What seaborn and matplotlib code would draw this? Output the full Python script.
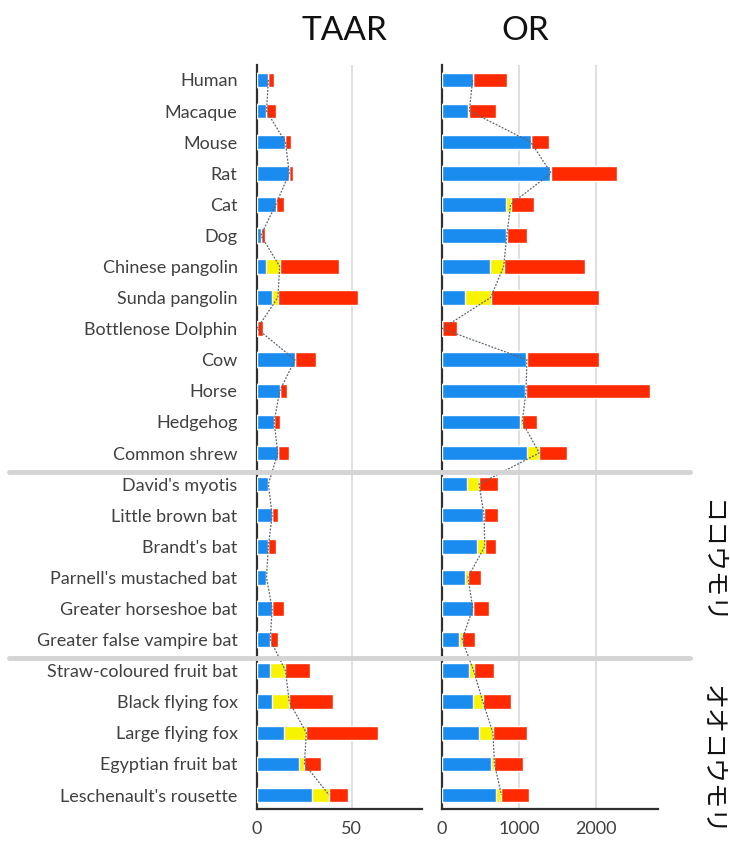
import numpy as np
import pandas as pd
import seaborn as sns
import matplotlib.pyplot as plt
import matplotlib.transforms as mtransforms

# Data: intact / truncated / pseudogene counts
species = ["Human", "Macaque", "Mouse", "Rat", "Cat", "Dog", "Chinese pangolin",
           "Sunda pangolin", "Bottlenose Dolphin", "Cow", "Horse", "Hedgehog",
           "Common shrew", "David's myotis", "Little brown bat", "Brandt's bat",
           "Parnell's mustached bat", "Greater horseshoe bat", "Greater false vampire bat",
           "Straw-coloured fruit bat", "Black flying fox", "Large flying fox",
           "Egyptian fruit bat", "Leschenault's rousette"]

taar_intact = [6, 5, 15, 17, 10, 2, 5, 8, 0, 20, 12, 9, 11,
               6, 8, 6, 5, 8, 7,
               7, 8, 14, 22, 29]
taar_trunc = [0, 0, 0, 0, 0, 0, 7, 3, 0, 0, 0, 0, 0,
              0, 0, 0, 0, 0, 0,
              8, 9, 12, 3, 9]
taar_pseudo = [3, 5, 3, 2, 4, 2, 31, 42, 3, 11, 4, 3, 6,
               0, 3, 4, 0, 6, 4,
               13, 23, 38, 9, 10]

or_intact = [396, 340, 1150, 1400, 830, 830, 620, 300, 0, 1090, 1080, 1010, 1100,
             325, 535, 455, 295, 400, 220,
             350, 400, 480, 640, 705]
or_trunc = [0, 15, 0, 15, 60, 10, 180, 330, 0, 10, 10, 30, 160,
            155, 10, 100, 40, 0, 40,
            60, 130, 180, 40, 65]
or_pseudo = [450, 350, 240, 850, 300, 260, 1050, 1410, 190, 940, 1600, 190, 360,
             250, 185, 150, 170, 210, 165,
             270, 370, 440, 370, 360]

blue = "#1a8cf0"
yellow = "#f8f400"
red = "#ff2a00"

sns.set_theme(style="white")
plt.rcParams['font.family'] = ['Lato', 'Noto Sans CJK JP', 'DejaVu Sans']

fig = plt.figure(figsize=(7.3, 8.41), dpi=100)
W, H = 730, 841
ax1 = fig.add_axes([257 / W, 1 - 809 / H, 165 / W, 744 / H])
ax2 = fig.add_axes([442 / W, 1 - 809 / H, 216 / W, 744 / H])


def stacked(ax, intact, trunc, pseudo, xmax, ticks):
    df = pd.DataFrame({"species": species, "intact": intact,
                       "trunc": trunc, "pseudo": pseudo})
    df["mid"] = df["intact"] + df["trunc"]
    df["total"] = df["mid"] + df["pseudo"]
    sns.barplot(ax=ax, data=df, y="species", x="total", color=red,
                orient="h", width=0.47, saturation=1, zorder=3)
    sns.barplot(ax=ax, data=df, y="species", x="mid", color=yellow,
                orient="h", width=0.47, saturation=1, zorder=3)
    sns.barplot(ax=ax, data=df, y="species", x="intact", color=blue,
                orient="h", width=0.47, saturation=1, zorder=3)
    # dotted line through intact + truncated ends
    ax.plot(df["mid"], np.arange(len(df)), ls=(0, (1.5, 1.2)), color="#5a6470",
            lw=0.9, zorder=4)
    ax.set_xlim(0, xmax)
    ax.set_ylim(23.45, -0.48)
    ax.set_xticks(ticks)
    ax.set_xticklabels([str(t) for t in ticks], fontsize=13, color="#404040")
    for t in ticks[1:]:
        ax.axvline(t, color="#d9d9d9", lw=1.2, zorder=0)
    ax.set_xlabel("")
    ax.set_ylabel("")
    for s in ["top", "right"]:
        ax.spines[s].set_visible(False)
    for s in ["left", "bottom"]:
        ax.spines[s].set_color("#303030")
        ax.spines[s].set_linewidth(1.6)
    ax.tick_params(axis="both", length=0)
    ax.tick_params(axis="x", pad=9)


stacked(ax1, taar_intact, taar_trunc, taar_pseudo, 87, [0, 50])
stacked(ax2, or_intact, or_trunc, or_pseudo, 2800, [0, 1000, 2000])

ax1.set_yticks(range(len(species)))
ax1.set_yticklabels(species, fontsize=13, color="#404040")
ax1.tick_params(axis="y", pad=14)
ax2.set_yticklabels([])

fig.text(344 / W, 1 - 31 / H, "TAAR", ha="center", va="center", fontsize=24, color="#111111")
fig.text(525 / W, 1 - 31 / H, "OR", ha="center", va="center", fontsize=24, color="#111111")

# group separators
trans = mtransforms.blended_transform_factory(fig.transFigure, ax1.transData)
for yy in [12.6, 18.6]:
    fig.add_artist(plt.Line2D([0.012, 0.945], [yy, yy], transform=trans,
                              color="#d4d4d4", lw=3.5, zorder=5))

fig.text(712 / W, 1 - 561 / H, "ココウモリ", rotation=-90, ha="center", va="center",
         fontsize=18, color="#111111")
fig.text(712 / W, 1 - 760 / H, "オオコウモリ", rotation=-90, ha="center", va="center",
         fontsize=18, color="#111111")

fig.savefig("out.png", dpi=100)
